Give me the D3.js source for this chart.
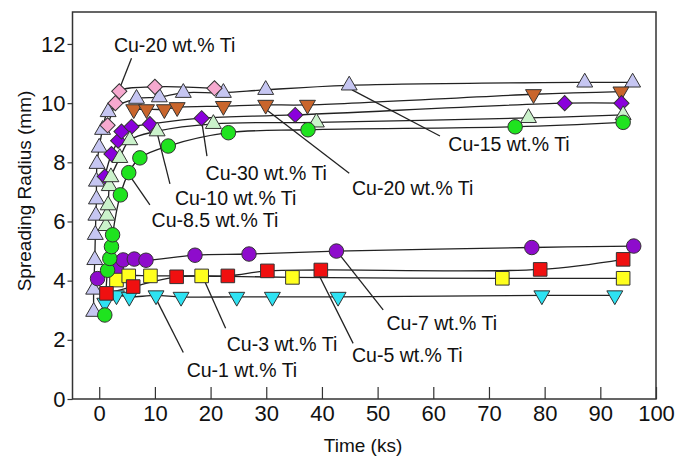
<!DOCTYPE html>
<html>
<head>
<meta charset="utf-8">
<script src="https://cdn.jsdelivr.net/npm/d3@7"></script>
<style>
  body { margin: 0; background: #fff; }
  text { font-family: Arial, "Liberation Sans", sans-serif; fill: #111; }
</style>
</head>
<body>
<svg width="688" height="460"></svg>
<script>
// time (ks), spreading radius (mm)
const cu1 = [[1.0, 3.25], [3.1, 3.5], [5.4, 3.45], [10.2, 3.5], [14.7, 3.45], [24.7, 3.45],
  [31.1, 3.45], [42.9, 3.45], [79.5, 3.5], [92.6, 3.5]];
const cu3 = [[3.1, 4.02], [5.3, 4.16], [9.2, 4.16], [18.4, 4.16], [34.7, 4.11], [72.4, 4.08], [94.1, 4.08]];
const cu5 = [[1.3, 3.57], [6.1, 3.8], [13.9, 4.13], [23.1, 4.16], [30.2, 4.33], [39.8, 4.36],
  [79.2, 4.38], [94.1, 4.72]];
const cu7 = [[-0.3, 4.07], [3.1, 4.4], [4.3, 4.7], [6.3, 4.73], [8.4, 4.69], [17.2, 4.86],
  [26.9, 4.9], [42.6, 5.0], [77.7, 5.12], [96.0, 5.17]];
const cu85 = [[1.0, 2.84], [1.5, 4.35], [1.9, 4.75], [2.2, 5.15], [2.4, 5.55], [3.8, 6.9],
  [5.3, 7.65], [7.3, 8.15], [12.4, 8.55], [23.2, 9.0], [37.5, 9.1], [74.7, 9.2], [94.1, 9.35]];
const cu10 = [[1.2, 5.85], [1.4, 6.2], [1.6, 6.55], [1.8, 7.2], [2.1, 7.5], [3.7, 8.15],
  [5.5, 8.75], [10.4, 9.05], [20.5, 9.3], [39.0, 9.35], [77.1, 9.5], [94.1, 9.6]];
const cu15 = [[-1.0, 2.95], [-1.0, 3.7], [-0.8, 4.7], [-0.7, 5.55], [-0.6, 6.2], [-0.5, 6.75],
  [-0.5, 7.35], [-0.4, 7.95], [0.0, 8.5], [0.6, 9.1], [1.6, 9.7], [6.7, 10.15], [10.8, 10.2],
  [15.1, 10.35], [22.3, 10.35], [29.9, 10.45], [44.9, 10.6], [87.2, 10.7], [95.8, 10.7]];
const cu20 = [[1.5, 9.25], [2.9, 10.0], [3.6, 10.4], [10.0, 10.55], [20.7, 10.5]];
const cu20b = [[6.2, 9.79], [8.5, 9.79], [11.7, 9.79], [14.0, 9.86], [22.3, 9.9], [29.9, 9.94],
  [37.4, 9.94], [78.0, 10.3], [93.7, 10.39]];
const cu30 = [[1.0, 7.52], [2.2, 8.28], [3.4, 8.73], [4.0, 9.04], [5.8, 9.2], [9.1, 9.29],
  [18.4, 9.49], [35.2, 9.6], [83.6, 10.0], [93.8, 10.0]];

const xTicks = [0, 10, 20, 30, 40, 50, 60, 70, 80, 90, 100];
const yTicks = [0, 2, 4, 6, 8, 10, 12];

// label text, text anchor point, leader start, leader end (data units)
const labels = [
  ["Cu-20 wt.% Ti", [2.64, 11.97], [5.8, 11.52], [3.7, 10.51]],
  ["Cu-30 wt.% Ti", [19.1, 7.64], [19.35, 8.21], [18.4, 9.4]],
  ["Cu-20 wt.% Ti", [45.4, 7.13], [44.9, 7.63], [30.1, 9.77]],
  ["Cu-15 wt.% Ti", [62.7, 8.62], [61.2, 8.89], [45.4, 10.45]],
  ["Cu-10 wt.% Ti", [13.6, 6.81], [12.7, 7.27], [10.5, 8.92]],
  ["Cu-8.5 wt.% Ti", [9.4, 6.05], [9.1, 6.56], [5.5, 7.54]],
  ["Cu-7 wt.% Ti", [51.6, 2.57], [51.0, 3.01], [43.2, 4.87]],
  ["Cu-5 wt.% Ti", [45.4, 1.49], [45.6, 1.88], [39.3, 4.25]],
  ["Cu-3 wt.% Ti", [22.9, 1.86], [22.7, 2.39], [18.7, 4.08]],
  ["Cu-1 wt.% Ti", [15.7, 0.98], [15.1, 1.57], [10.3, 3.35]]
];

const series = [
  { data: cu15, shape: d3.symbolTriangle, size: 110, rot: 0, fill: "#c6c6f2" },
  { data: cu20, shape: d3.symbolSquare, size: 115, rot: 45, fill: "#f6a9cf" },
  { data: cu20b, shape: d3.symbolTriangle, size: 110, rot: 180, fill: "#c9652c" },
  { data: cu30, shape: d3.symbolSquare, size: 115, rot: 45, fill: "#8a00dc" },
  { data: cu10, shape: d3.symbolTriangle, size: 110, rot: 0, fill: "#cbf2cb" },
  { data: cu7, shape: d3.symbolCircle, size: 165, rot: 0, fill: "#8e0ccc" },
  { data: cu3, shape: d3.symbolSquare, size: 185, rot: 0, fill: "#ffff1e" },
  { data: cu1, shape: d3.symbolTriangle, size: 110, rot: 180, fill: "#2ee2f2" },
  { data: cu5, shape: d3.symbolSquare, size: 185, rot: 0, fill: "#f01010" },
  { data: cu85, shape: d3.symbolCircle, size: 165, rot: 0, fill: "#1fe31f" }
];

const svg = d3.select("svg");
const x = d3.scaleLinear().domain([-4.8, 100]).range([72.5, 656]);
const y = d3.scaleLinear().domain([0, 13.08]).range([399, 12]);

const line = d3.line()
  .x(d => x(d[0]))
  .y(d => y(d[1]))
  .curve(d3.curveCatmullRom.alpha(0.5));

// fit curves under the markers
svg.append("g").selectAll("path")
  .data(series)
  .enter().append("path")
  .attr("d", d => line(d.data))
  .attr("fill", "none")
  .attr("stroke", "#222")
  .attr("stroke-width", 1.3);

// leader lines
svg.append("g").selectAll("line")
  .data(labels)
  .enter().append("line")
  .attr("x1", d => x(d[2][0])).attr("y1", d => y(d[2][1]))
  .attr("x2", d => x(d[3][0])).attr("y2", d => y(d[3][1]))
  .attr("stroke", "#222")
  .attr("stroke-width", 1.3);

series.forEach(s => {
  const sym = d3.symbol().type(s.shape).size(s.size);
  svg.append("g").selectAll("path")
    .data(s.data)
    .enter().append("path")
    .attr("d", sym)
    .attr("transform", d => `translate(${x(d[0])},${y(d[1])}) rotate(${s.rot})`)
    .attr("fill", s.fill)
    .attr("stroke", "#333")
    .attr("stroke-width", 1);
});

svg.append("g").selectAll("text")
  .data(labels)
  .enter().append("text")
  .attr("x", d => x(d[1][0]))
  .attr("y", d => y(d[1][1]))
  .attr("dy", "0.36em")
  .style("font-size", "19.5px")
  .text(d => d[0]);

// frame
svg.append("rect")
  .attr("x", x(-4.8)).attr("y", y(13.08))
  .attr("width", x(100) - x(-4.8)).attr("height", y(0) - y(13.08))
  .attr("fill", "none")
  .attr("stroke", "#333")
  .attr("stroke-width", 1.5);

// x axis: ticks point inward
const xAxis = svg.append("g")
  .attr("transform", `translate(0,${y(0)})`)
  .call(d3.axisBottom(x).tickValues(xTicks).tickSizeInner(-12).tickSizeOuter(0).tickPadding(6));
xAxis.select(".domain").remove();
xAxis.selectAll("line").attr("stroke", "#333").attr("stroke-width", 1.2);
xAxis.selectAll("text").style("font-size", "22px").attr("font-family", null);

const yAxis = svg.append("g")
  .attr("transform", `translate(${x(-4.8)},0)`)
  .call(d3.axisLeft(y).tickValues(yTicks).tickSizeInner(5).tickSizeOuter(0).tickPadding(2));
yAxis.select(".domain").remove();
yAxis.selectAll("line").attr("stroke", "#333").attr("stroke-width", 1.2);
yAxis.selectAll("text").style("font-size", "22px").attr("font-family", null);

svg.append("text")
  .attr("x", 363).attr("y", 445).attr("dy", "0.35em")
  .attr("text-anchor", "middle")
  .style("font-size", "19px")
  .text("Time (ks)");

svg.append("text")
  .attr("transform", "translate(24,191) rotate(-90)")
  .attr("dy", "0.35em")
  .attr("text-anchor", "middle")
  .style("font-size", "19px")
  .text("Spreading Radius (mm)");
</script>
</body>
</html>
